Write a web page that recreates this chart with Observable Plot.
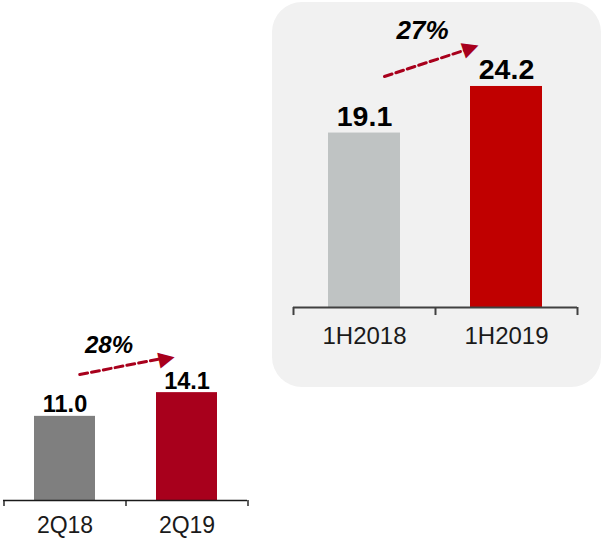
<!DOCTYPE html>
<html>
<head>
<meta charset="utf-8">
<script src="https://cdn.jsdelivr.net/npm/d3@7"></script>
<script src="https://cdn.jsdelivr.net/npm/@observablehq/plot@0.6"></script>
<style>
  body { margin: 0; background: #fff; font-family: "Liberation Sans", Arial, sans-serif; }
  #wrap { position: relative; width: 602px; height: 541px; overflow: hidden; }
  #panel { position: absolute; left: 272px; top: 2px; width: 329px; height: 385px; border-radius: 30px; background: #f1f1f1; }
  #wrap svg { position: absolute; left: 0; top: 0; }
</style>
</head>
<body>
<div id="wrap"><div id="panel"></div></div>
<script>
// Quarterly comparison (left)
const quarterCats = ["2Q18", "2Q19"];
const quarterValues = [11.0, 14.1];
const quarterLabels = ["11.0", "14.1"];
const quarterColors = ["#7f7f7f", "#a8001c"];
const quarterGrowth = "28%";

// Half-year comparison (right, shaded panel)
const halfCats = ["1H2018", "1H2019"];
const halfValues = [19.1, 24.2];
const halfLabels = ["19.1", "24.2"];
const halfColors = ["#bfc3c3", "#c00000"];
const halfGrowth = "27%";

const arrowColor = "#a8001c";
const font = "'Liberation Sans', Arial, Helvetica, sans-serif";

const qData = quarterCats.map((c, i) => ({cat: c, value: quarterValues[i], label: quarterLabels[i]}));
const qArrow = [{from: quarterCats[0], to: quarterCats[1], v1: quarterValues[0], v2: quarterValues[1], growth: quarterGrowth}];
const hData = halfCats.map((c, i) => ({cat: c, value: halfValues[i], label: halfLabels[i]}));
const hArrow = [{from: halfCats[0], to: halfCats[1], v1: halfValues[0], v2: halfValues[1], growth: halfGrowth}];

const left = Plot.plot({
  width: 602, height: 541,
  marginLeft: 3, marginRight: 355, marginTop: 41, marginBottom: 41,
  style: {background: "transparent", fontFamily: font, overflow: "visible"},
  x: {domain: quarterCats, paddingInner: 0.5, paddingOuter: 0.25, axis: null},
  y: {domain: [0, 60], axis: null},
  color: {domain: quarterCats, range: quarterColors},
  marks: [
    Plot.barY(qData, {x: "cat", y: "value", fill: "cat"}),
    Plot.ruleY([0], {stroke: "#1a1a1a", strokeWidth: 1.4}),
    Plot.ruleX(quarterCats, {x: d => d, y1: 0, y2: -0.8, dx: -61, stroke: "#1a1a1a", strokeWidth: 1.4}),
    Plot.ruleX(quarterCats.slice(-1), {x: d => d, y1: 0, y2: -0.8, dx: 61, stroke: "#1a1a1a", strokeWidth: 1.4}),
    Plot.text(qData, {x: "cat", y: 0, text: "cat", dy: 25.6, fontSize: 23, fill: "#1a1a1a"}),
    Plot.text(qData, {x: "cat", y: "value", text: "label", lineAnchor: "bottom", dy: -4, fontSize: 23.5, fontWeight: "bold", fill: "#000"}),
    Plot.arrow(qArrow, {x1: "from", y1: "v1", x2: "to", y2: "v2", stroke: arrowColor, strokeWidth: 3, strokeDasharray: "8,4", headLength: 0, insetStart: 15, insetEnd: 26, dy: -39}),
    Plot.text(qArrow, {x: "to", y: "v2", text: () => "\u25B6", rotate: -12, dx: -21, dy: -35, fontSize: 21, fill: arrowColor}),
    Plot.text(qArrow, {x: "from", y: "v2", text: "growth", dx: 44, dy: -47.7, fontSize: 24, fontWeight: "bold", fontStyle: "italic", fill: "#000"})
  ]
});

const right = Plot.plot({
  width: 602, height: 541,
  marginLeft: 293, marginRight: 25, marginTop: 33, marginBottom: 234,
  style: {background: "transparent", fontFamily: font, overflow: "visible"},
  x: {domain: halfCats, paddingInner: 0.493, paddingOuter: 0.2465, axis: null},
  y: {domain: [0, 30], axis: null},
  color: {domain: halfCats, range: halfColors},
  marks: [
    Plot.barY(hData, {x: "cat", y: "value", fill: "cat"}),
    Plot.ruleY([0], {stroke: "#404040", strokeWidth: 2}),
    Plot.ruleX(halfCats, {x: d => d, y1: 0, y2: -0.88, dx: -71, stroke: "#404040", strokeWidth: 2}),
    Plot.ruleX(halfCats.slice(-1), {x: d => d, y1: 0, y2: -0.88, dx: 71, stroke: "#404040", strokeWidth: 2}),
    Plot.text(hData, {x: "cat", y: 0, text: "cat", dy: 29.3, fontSize: 24, fill: "#1a1a1a"}),
    Plot.text(hData, {x: "cat", y: "value", text: "label", lineAnchor: "bottom", dy: -7, fontSize: 28.5, fontWeight: "bold", fill: "#000"}),
    Plot.arrow(hArrow, {x1: "from", y1: "v1", x2: "to", y2: "v2", stroke: arrowColor, strokeWidth: 3, strokeDasharray: "8,4", headLength: 0, insetStart: 21, insetEnd: 42, dy: -50}),
    Plot.text(hArrow, {x: "to", y: "v2", text: () => "\u25B6", rotate: -19, dx: -36, dy: -39, fontSize: 21, fill: arrowColor}),
    Plot.text(hArrow, {x: "from", y: "v2", text: "growth", dx: 58, dy: -56.3, fontSize: 26, fontWeight: "bold", fontStyle: "italic", fill: "#000"})
  ]
});

const wrap = document.getElementById("wrap");
wrap.appendChild(left);
wrap.appendChild(right);
</script>
</body>
</html>
